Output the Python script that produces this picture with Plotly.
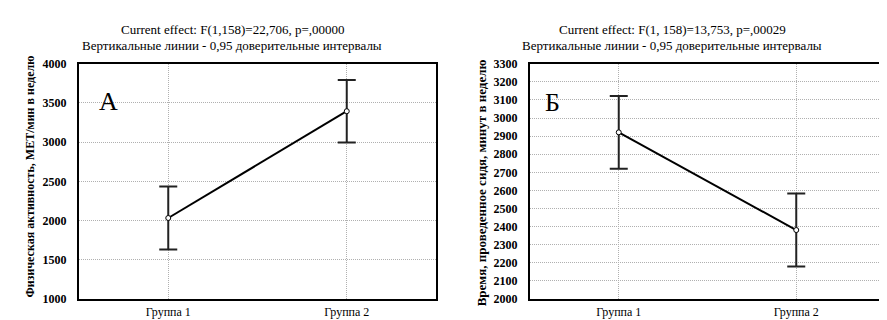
import plotly.graph_objects as go

groups = ["Группа 1", "Группа 2"]

# Panel A: physical activity
a_means = [2033, 3395]
a_ci = [402, 398]
# Panel Б: sitting time
b_means = [2921, 2381]
b_ci = [201, 202]

a_title1 = "Current effect: F(1,158)=22,706, p=,00000"
b_title1 = "Current effect: F(1, 158)=13,753, p=,00029"
title2 = "Вертикальные линии - 0,95 доверительные интервалы"
a_ylabel = "Физическая активность, МЕТ/мин в неделю"
b_ylabel = "Время, проведенное сидя, минут в неделю"

W, H = 887, 320
SERIF = "Liberation Serif"

fig = go.Figure()

def add_series(means, ci, xa, ya):
    fig.add_trace(go.Scatter(
        x=groups, y=means, xaxis=xa, yaxis=ya,
        mode="lines+markers",
        line=dict(color="black", width=2),
        marker=dict(symbol="circle", size=5, color="white",
                    line=dict(color="black", width=1)),
        error_y=dict(type="data", array=ci, visible=True,
                     color="#222", thickness=2, width=9),
        showlegend=False, cliponaxis=False,
    ))

add_series(a_means, a_ci, "x", "y")
add_series(b_means, b_ci, "x2", "y2")

GRID = dict(showgrid=True, gridcolor="#b0b0b0", griddash="1px,1px", gridwidth=1)

def xaxis(domain, anchor):
    return dict(domain=domain, anchor=anchor, type="category",
                categoryorder="array", categoryarray=groups,
                range=[-0.5, 1.5], **GRID,
                showline=True, mirror=True, linecolor="black", linewidth=2,
                ticks="", zeroline=False, ticklabelstandoff=1,
                tickfont=dict(family=SERIF, size=12, color="black"))

def yaxis(domain, anchor, rng, dtick):
    return dict(domain=domain, anchor=anchor, range=rng, dtick=dtick, **GRID,
                showline=True, mirror=True, linecolor="black", linewidth=2,
                ticks="", zeroline=False, ticklabelstandoff=8,
                tickfont=dict(family=SERIF, size=12, color="black",
                              weight="bold"))

yd = [(H - 297) / H, (H - 51) / H]
fig.update_layout(
    width=W, height=H,
    margin=dict(l=0, r=0, t=0, b=0),
    paper_bgcolor="white", plot_bgcolor="white",
    xaxis=xaxis([71 / W, 428 / W], "y"),
    yaxis=yaxis(yd, "x", [1000, 4000], 500),
    xaxis2=xaxis([522 / W, 877 / W], "y2"),
    yaxis2=yaxis(yd, "x2", [2000, 3300], 100),
)

def ann(text, x, y, size, bold=False, angle=0):
    fig.add_annotation(text=("<b>%s</b>" % text) if bold else text,
                       x=x / W, y=1 - y / H, xref="paper", yref="paper",
                       showarrow=False, textangle=angle,
                       font=dict(family=SERIF, size=size, color="black"),
                       xanchor="center", yanchor="middle")

ann(a_title1, 224, 15, 13)
ann(title2, 224, 32, 13)
ann(b_title1, 664, 15, 13)
ann(title2, 664, 32, 13)
ann(a_ylabel, 22, 169, 12, bold=True, angle=-90)
ann(b_ylabel, 473, 176, 13, bold=True, angle=-90)
ann("А", 100, 90, 26)
ann("Б", 544, 92, 26)

fig.write_html("out.html")
